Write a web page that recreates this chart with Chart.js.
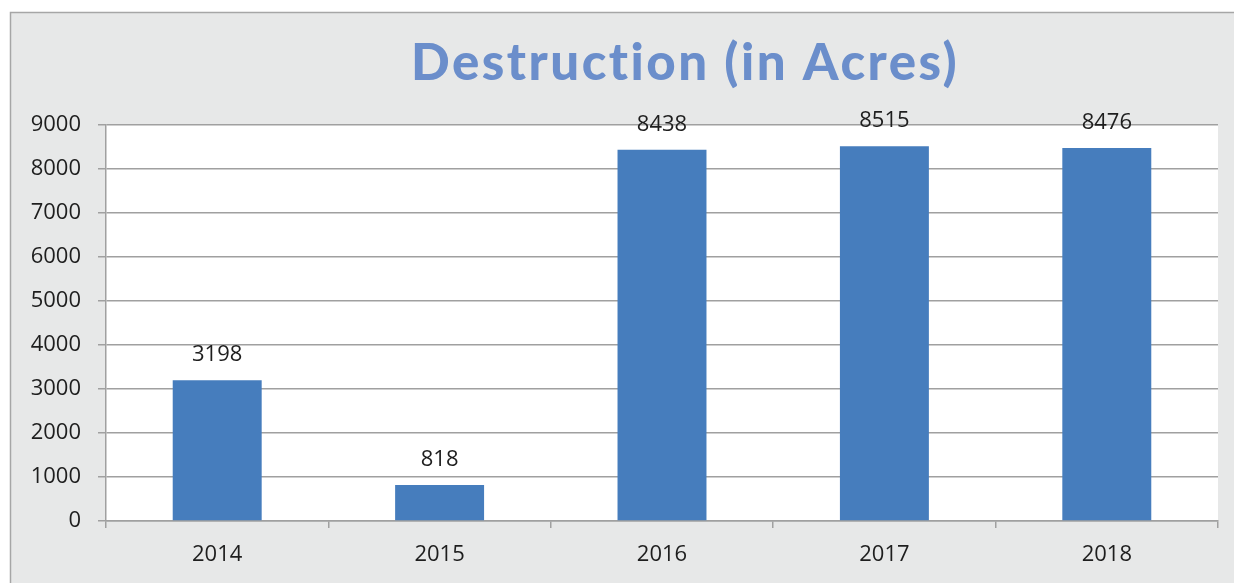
<!DOCTYPE html>
<html>
<head>
<meta charset="utf-8">
<script src="https://cdn.jsdelivr.net/npm/chart.js@4/dist/chart.umd.min.js"></script>
<style>
html,body{margin:0;padding:0;background:#fff;}
#wrap{width:1234px;height:583px;position:relative;}
</style>
</head>
<body>
<div id="wrap"><canvas id="c" width="1234" height="583"></canvas></div>
<script>
const titleText = "Destruction (in Acres)";
const categories = ["2014", "2015", "2016", "2017", "2018"];
const acres = [3198, 818, 8438, 8515, 8476];
const yMin = 0;
const yMax = 9000;
const yStep = 1000;

const TICK_FONT = {family: "'Open Sans', sans-serif", size: 22};

const framePlugin = {
  id: 'frame',
  beforeDraw(chart) {
    const ctx = chart.ctx;
    const a = chart.chartArea;
    ctx.save();
    ctx.fillStyle = '#ffffff';
    ctx.fillRect(0, 0, chart.width, chart.height);
    ctx.fillStyle = '#e7e8e8';
    ctx.fillRect(10, 12, chart.width - 10, chart.height - 12);
    ctx.strokeStyle = '#a6a6a6';
    ctx.lineWidth = 1.5;
    ctx.beginPath();
    ctx.moveTo(10.5, chart.height);
    ctx.lineTo(10.5, 12.5);
    ctx.lineTo(chart.width, 12.5);
    ctx.stroke();
    ctx.fillStyle = '#ffffff';
    ctx.fillRect(a.left, a.top, a.right - a.left, a.bottom - a.top);
    // title
    ctx.fillStyle = '#6b8ecb';
    ctx.font = "900 51px Lato, sans-serif";
    try { ctx.letterSpacing = '2.5px'; } catch (e) {}
    ctx.fontVariantLigatures = 'none';
    ctx.textAlign = 'center';
    ctx.textBaseline = 'alphabetic';
    ctx.fillText(titleText, 685, 80);
    ctx.restore();
  },
  afterDatasetsDraw(chart) {
    const ctx = chart.ctx;
    const meta = chart.getDatasetMeta(0);
    ctx.save();
    ctx.fillStyle = '#1e1e1e';
    ctx.font = "22px 'Open Sans', sans-serif";
    ctx.textAlign = 'center';
    ctx.textBaseline = 'alphabetic';
    meta.data.forEach((bar, i) => {
      ctx.fillText(String(chart.data.datasets[0].data[i]), bar.x, bar.y - 19);
    });
    ctx.restore();
  }
};

new Chart(document.getElementById('c'), {
  type: 'bar',
  data: {
    labels: categories,
    datasets: [{
      data: acres,
      backgroundColor: '#467dbd',
      borderWidth: 0,
      barPercentage: 0.4,
      categoryPercentage: 1.0
    }]
  },
  options: {
    responsive: false,
    animation: false,
    devicePixelRatio: 1,
    layout: {padding: {left: 10, right: 16, top: 125, bottom: 0}},
    plugins: {legend: {display: false}, tooltip: {enabled: false}, title: {display: false}},
    scales: {
      x: {
        offset: true,
        grid: {display: true, offset: true, drawOnChartArea: false, drawTicks: true, tickLength: 7, color: '#a0a0a0', lineWidth: 1.5},
        border: {display: true, color: '#a0a0a0', width: 1.5},
        ticks: {color: '#1e1e1e', font: TICK_FONT, padding: 14, maxRotation: 0},
        afterFit(s) { s.height = 62; }
      },
      y: {
        min: yMin,
        max: yMax,
        ticks: {stepSize: yStep, color: '#1e1e1e', font: TICK_FONT, padding: 17,
                callback: (v) => String(v)},
        grid: {color: '#a0a0a0', lineWidth: 1.5, tickLength: 8, drawTicks: true},
        border: {display: true, color: '#a0a0a0', width: 1.5},
        afterFit(s) { s.width = 96; }
      }
    }
  },
  plugins: [framePlugin]
});
</script>
</body>
</html>
